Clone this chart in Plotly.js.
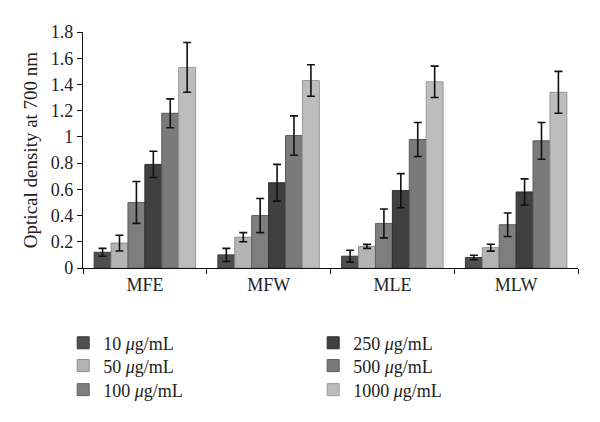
<!DOCTYPE html>
<html>
<head>
<meta charset="utf-8">
<script src="https://cdn.plot.ly/plotly-3.0.1.min.js"></script>
<style>html,body{margin:0;padding:0;background:#fff;}#chart{width:600px;height:422px;}</style>
</head>
<body>
<div id="chart"></div>
<script>
const categories = ["MFE", "MFW", "MLE", "MLW"];
const seriesNames = ["10 <i>μ</i>g/mL", "50 <i>μ</i>g/mL", "100 <i>μ</i>g/mL", "250 <i>μ</i>g/mL", "500 <i>μ</i>g/mL", "1000 <i>μ</i>g/mL"];
const c10 = [0.12, 0.10, 0.09, 0.08];
const c50 = [0.19, 0.235, 0.165, 0.155];
const c100 = [0.50, 0.40, 0.34, 0.33];
const c250 = [0.79, 0.65, 0.59, 0.58];
const c500 = [1.18, 1.01, 0.98, 0.97];
const c1000 = [1.53, 1.43, 1.42, 1.34];
const e10 = [0.03, 0.05, 0.045, 0.017];
const e50 = [0.06, 0.035, 0.015, 0.026];
const e100 = [0.16, 0.13, 0.11, 0.09];
const e250 = [0.10, 0.14, 0.13, 0.10];
const e500 = [0.11, 0.15, 0.13, 0.14];
const e1000 = [0.19, 0.12, 0.12, 0.16];

const values = [c10, c50, c100, c250, c500, c1000];
const errors = [e10, e50, e100, e250, e500, e1000];
const colors = ["#4f4f4f", "#b4b4b4", "#7e7e7e", "#404040", "#7a7a7a", "#bdbdbd"];
const lineColors = ["#3a3a3a", "#8c8c8c", "#5e5e5e", "#2e2e2e", "#5a5a5a", "#999999"];
const legendIds = ["legend", "legend2", "legend3", "legend4", "legend5", "legend6"];
// legend placement: column x (paper) and row center y (container fraction)
const legendX = [-0.04, -0.04, -0.04, 0.465, 0.465, 0.465];
const legendY = [0.187, 0.133, 0.076, 0.187, 0.133, 0.076];

const font = "Liberation Serif, Times New Roman, serif";
const traces = values.map((v, i) => ({
  type: "bar",
  x: categories,
  y: v,
  name: seriesNames[i],
  legend: legendIds[i],
  marker: {color: colors[i], line: {color: lineColors[i], width: 1}},
  error_y: {type: "data", array: errors[i], visible: true, color: "#111", thickness: 1.6, width: 4}
}));

const layout = {
  width: 600,
  height: 422,
  margin: {l: 83, r: 22, t: 32, b: 154},
  paper_bgcolor: "#fff",
  plot_bgcolor: "#fff",
  barmode: "group",
  bargap: 0.18,
  bargroupgap: 0,
  font: {family: font, size: 18, color: "#222"},
  xaxis: {
    type: "category",
    showline: true, linecolor: "#111", linewidth: 1.2,
    ticks: "outside", tickson: "boundaries", ticklen: 5, tickcolor: "#111",
    tickfont: {family: font, size: 18, color: "#222"},
    showgrid: false, zeroline: false
  },
  yaxis: {
    range: [0, 1.8], dtick: 0.2, tick0: 0,
    showline: true, linecolor: "#111", linewidth: 1.2,
    ticks: "outside", ticklen: 5, tickcolor: "#111",
    tickfont: {family: font, size: 18, color: "#222"},
    showgrid: false, zeroline: false,
    title: {text: "Optical density at 700 nm", font: {family: font, size: 19, color: "#222"}, standoff: 8}
  },
  showlegend: true
};
legendIds.forEach((id, i) => {
  layout[id] = {
    orientation: "v",
    font: {family: font, size: 18, color: "#222"},
    bgcolor: "rgba(0,0,0,0)",
    xref: "paper", yref: "container",
    xanchor: "left", yanchor: "middle",
    x: legendX[i], y: legendY[i],
    itemwidth: 30
  };
});

Plotly.newPlot("chart", traces, layout, {displayModeBar: false, staticPlot: true});
</script>
</body>
</html>
